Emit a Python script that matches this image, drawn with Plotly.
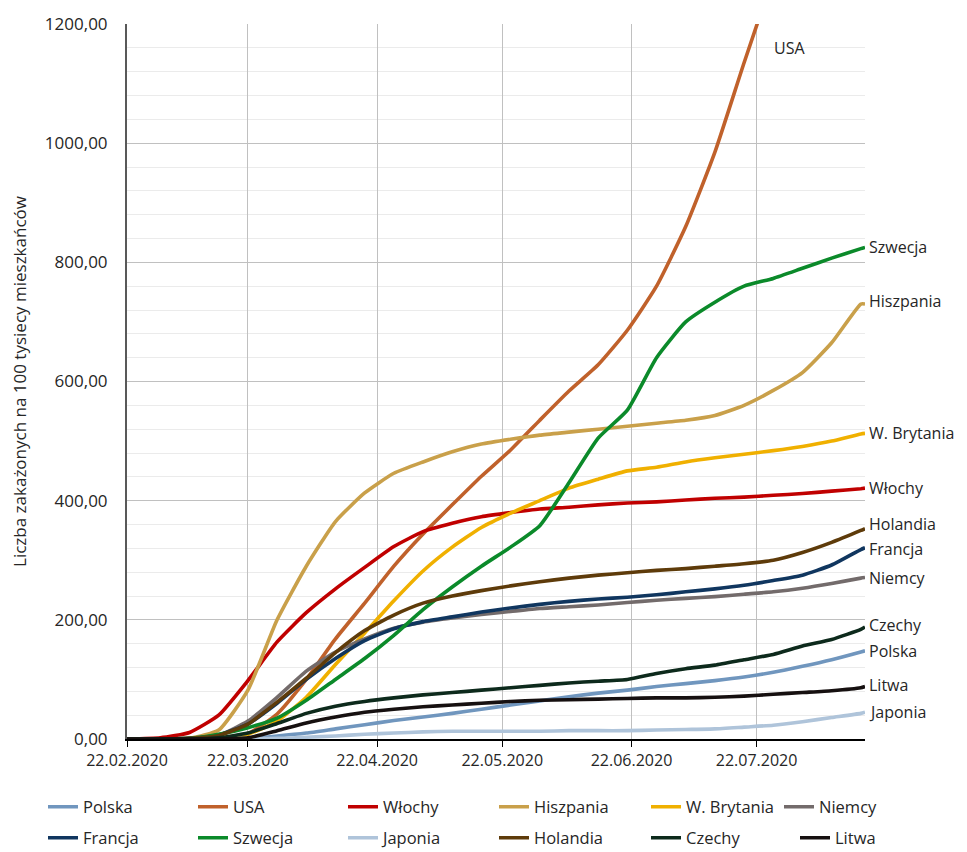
import plotly.graph_objects as go

dates = ["2020-02-22", "2020-03-01", "2020-03-08", "2020-03-15", "2020-03-22", "2020-03-29",
         "2020-04-05", "2020-04-12", "2020-04-19", "2020-04-26", "2020-05-03", "2020-05-10",
         "2020-05-17", "2020-05-24", "2020-05-31", "2020-06-07", "2020-06-14", "2020-06-21",
         "2020-06-28", "2020-07-05", "2020-07-12", "2020-07-19", "2020-07-26", "2020-08-02",
         "2020-08-09", "2020-08-16", "2020-08-17"]

polska = [0, 0, 0, 0, 1, 5, 10, 17, 24, 31, 37, 43, 50, 57, 64, 71, 77, 82, 88, 93, 98, 104, 112, 122, 133, 146, 148]
usa = [0, 0, 0, 1, 9, 42, 100, 168, 228, 290, 344, 393, 441, 485, 535, 584, 628, 686, 760, 860, 985, 1135, 1280, 1430, 1550, 1650, 1660]
wlochy = [0, 2, 11, 40, 98, 163, 212, 252, 288, 323, 348, 362, 373, 380, 386, 389, 393, 396, 398, 401, 404, 406, 409, 412, 416, 420, 421]
hiszpania = [0, 0, 1, 15, 82, 200, 290, 365, 413, 446, 465, 482, 495, 503, 510, 515, 520, 525, 530, 535, 543, 560, 585, 615, 665, 730, 730]
wbrytania = [0, 0, 0, 2, 8, 30, 70, 125, 178, 232, 282, 322, 355, 379, 400, 421, 436, 450, 456, 465, 472, 478, 484, 491, 500, 512, 513]
niemcy = [0, 0, 1, 6, 30, 70, 114, 146, 168, 186, 196, 203, 209, 214, 219, 222, 225, 229, 233, 236, 239, 243, 247, 253, 261, 270, 271]
francja = [0, 0, 1, 7, 25, 60, 100, 135, 165, 185, 197, 205, 213, 220, 226, 231, 235, 238, 242, 247, 252, 258, 266, 275, 292, 318, 321]
szwecja = [0, 0, 1, 8, 19, 35, 65, 100, 135, 174, 217, 255, 290, 322, 358, 430, 505, 552, 640, 700, 733, 760, 773, 790, 807, 823, 825]
japonia = [0, 0, 0, 1, 1, 1, 3, 5, 8, 10, 12, 13, 13, 13, 13, 14, 14, 14, 15, 16, 17, 20, 23, 29, 36, 43, 45]
holandia = [0, 0, 1, 6, 25, 62, 102, 145, 182, 208, 228, 240, 249, 257, 264, 270, 275, 279, 283, 286, 290, 294, 300, 313, 330, 350, 353]
czechy = [0, 0, 0, 2, 10, 26, 43, 55, 63, 69, 74, 78, 82, 86, 90, 94, 97, 100, 110, 118, 124, 133, 142, 156, 167, 184, 188]
litwa = [0, 0, 0, 0, 2, 14, 27, 37, 45, 50, 54, 57, 60, 63, 65, 66, 67, 68, 69, 69, 70, 72, 75, 78, 81, 86, 88]

series = [
    ("Polska", polska, "#7096BE"),
    ("USA", usa, "#C0612B"),
    ("Włochy", wlochy, "#C00000"),
    ("Hiszpania", hiszpania, "#C9A04A"),
    ("W. Brytania", wbrytania, "#F0B000"),
    ("Niemcy", niemcy, "#736B6B"),
    ("Francja", francja, "#10365F"),
    ("Szwecja", szwecja, "#0B8A2A"),
    ("Japonia", japonia, "#AFC4DA"),
    ("Holandia", holandia, "#5E3B0A"),
    ("Czechy", czechy, "#0D2A1C"),
    ("Litwa", litwa, "#161010"),
]

tick_dates = ["2020-02-22", "2020-03-22", "2020-04-22", "2020-05-22", "2020-06-22", "2020-07-22"]
tick_text = ["22.02.2020", "22.03.2020", "22.04.2020", "22.05.2020", "22.06.2020", "22.07.2020"]
y_ticks = [0, 200, 400, 600, 800, 1000, 1200]
y_text = ["0,00", "200,00", "400,00", "600,00", "800,00", "1000,00", "1200,00"]

FONT = "Open Sans"
TXT = "#262626"
W, H = 959, 844          # page body adds an 8px offset
OFF = 8

# legend entry layout (screen pixels of line start / text centre)
leg_x = [48, 198, 348, 499, 651, 784, 48, 198, 348, 499, 651, 800]
leg_y = [807] * 6 + [838] * 6
# small vertical nudges (px) for end-of-line labels to avoid collisions
label_shift = {"Hiszpania": 3, "Holandia": 5, "Francja": -1, "Czechy": 2, "Litwa": 2}

fig = go.Figure()
legends = {}
for i, (name, vals, col) in enumerate(series):
    lid = "legend" if i == 0 else f"legend{i + 1}"
    fig.add_trace(go.Scatter(x=dates, y=vals, name=name, mode="lines", legend=lid, showlegend=True,
                             line=dict(color=col, width=3.6, shape="spline", smoothing=0.5)))
    legends[lid] = dict(orientation="h", xref="container", yref="container",
                        x=(leg_x[i] - OFF - 5) / W, xanchor="left",
                        y=1 - (leg_y[i] - OFF) / H, yanchor="middle",
                        font=dict(size=16.5, color=TXT, family=FONT),
                        bgcolor="rgba(0,0,0,0)", borderwidth=0, visible=True)

annotations = []
for name, vals, col in series:
    if name == "USA":
        annotations.append(dict(x="2020-07-30", y=1160, text="USA", showarrow=False,
                                xanchor="center", font=dict(size=16, color=TXT, family=FONT)))
    else:
        annotations.append(dict(x=dates[-1], y=vals[-1], text=name, showarrow=False,
                                xanchor="left", xshift=2, yshift=label_shift.get(name, 0),
                                font=dict(size=16, color=TXT, family=FONT)))

fig.update_layout(
    width=W, height=H,
    showlegend=True,
    margin=dict(l=127 - OFF, r=W - (865 - OFF), t=24 - OFF, b=H - (739 - OFF)),
    paper_bgcolor="white", plot_bgcolor="white",
    font=dict(family=FONT, size=16, color=TXT),
    annotations=annotations,
    xaxis=dict(
        range=["2020-02-22", "2020-08-17"],
        tickvals=tick_dates, ticktext=tick_text,
        showgrid=True, gridcolor="#C0C0C0", gridwidth=1,
        showline=True, linecolor="#000000", linewidth=1.5,
        ticks="outside", ticklen=6, tickcolor="#000000",
        tickfont=dict(size=16, color=TXT),
        zeroline=False, automargin=False,
    ),
    yaxis=dict(
        range=[0, 1200],
        tickvals=y_ticks, ticktext=y_text,
        showgrid=True, gridcolor="#C0C0C0", gridwidth=1,
        minor=dict(dtick=40, showgrid=True, gridcolor="#EBEBEB", gridwidth=1),
        showline=True, linecolor="#595959", linewidth=2,
        ticks="", zeroline=False, automargin=False,
        ticklabelstandoff=14,
        tickfont=dict(size=17, color=TXT),
        title=dict(text="Liczba zakażonych na 100 tysiecy mieszkańców", font=dict(size=17, color=TXT),
                   standoff=14),
    ),
    **legends,
)

fig.write_html("out.html")
